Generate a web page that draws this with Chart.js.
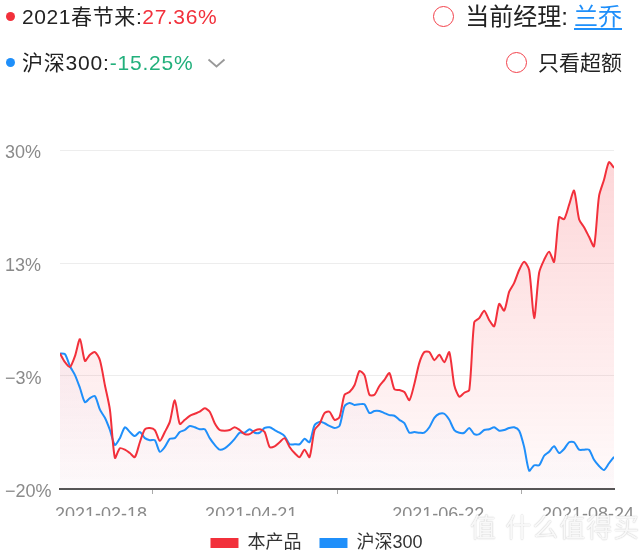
<!DOCTYPE html>
<html>
<head>
<meta charset="utf-8">
<script src="https://cdn.jsdelivr.net/npm/chart.js@4.4.0/dist/chart.umd.min.js"></script>
<style>
  html, body { margin: 0; padding: 0; background: #fff; }
  body { width: 641px; height: 555px; position: relative; overflow: hidden;
         font-family: "Liberation Sans", "Noto Sans CJK SC", sans-serif; }
  #wrap { position: absolute; left: 0; top: 0; width: 641px; height: 555px; }
  .txt { position: absolute; white-space: nowrap; line-height: 24px; color: #222; }
  .dot { position: absolute; width: 9px; height: 9px; border-radius: 50%; }
  .ring { position: absolute; width: 19px; height: 19px; border: 1.5px solid #f2404a; border-radius: 50%; }
  .up { color: #f2303b; }
  .down { color: #22b07c; }
  .link { color: #1f8ffa; text-decoration: underline; text-underline-offset: 3px; margin-left: 6px; }
  .mark { position: absolute; left: 470px; top: 507px; font-size: 26px; letter-spacing: 1px; white-space: nowrap;
          color: rgba(255,255,255,0.9); text-shadow: 0 0 1px rgba(0,0,0,0.25), 0 0 2px rgba(0,0,0,0.1); }
</style>
</head>
<body>
<div id="wrap"><canvas id="navChart"></canvas></div>

<!-- header -->
<span class="dot" style="left:6px;top:12px;background:#f2303b"></span>
<div class="txt" style="left:22px;top:5px;font-size:21px;letter-spacing:0.6px">2021春节来:<span class="up">27.36%</span></div>
<span class="dot" style="left:6px;top:58px;background:#1f8ffa"></span>
<div class="txt" style="left:22px;top:51px;font-size:21px;letter-spacing:0.8px">沪深300:<span class="down">-15.25%</span></div>
<svg style="position:absolute;left:207px;top:58px" width="19" height="11">
  <polyline points="1.5,1.5 9.5,8.5 17.5,1.5" fill="none" stroke="#999" stroke-width="1.8"/>
</svg>

<span class="ring" style="left:433px;top:6px"></span>
<div class="txt" style="right:19px;top:5px;font-size:24px">当前经理:<span class="link">兰乔</span></div>
<span class="ring" style="left:506px;top:52px"></span>
<div class="txt" style="right:19px;top:51px;font-size:21px">只看超额</div>

<div class="mark">值 什么值得买</div>

<script>
// 本产品 cumulative return since the 2021 Spring Festival (%)
const productValues = [
  0.0, -1.3, -2.0, -0.4, 2.1, -1.1, -0.2, 0.2, -1.0, -4.7,
  -8.3, -15.4, -14.0, -14.2, -14.7, -15.3, -13.1, -11.2, -11.0, -11.3,
  -12.9, -11.6, -10.1, -6.9, -10.4, -9.8, -9.2, -8.9, -8.6, -8.1,
  -8.6, -10.3, -11.3, -11.4, -11.3, -10.9, -11.3, -11.9, -11.9, -11.4,
  -11.2, -11.6, -13.8, -13.7, -13.1, -12.5, -13.8, -14.7, -15.3, -14.2,
  -15.3, -11.3, -10.4, -8.8, -8.6, -9.8, -9.4, -6.1, -5.7, -4.7,
  -2.6, -3.2, -6.1, -6.1, -4.8, -3.9, -2.9, -5.3, -5.4, -5.7,
  -6.9, -4.5, -1.4, 0.2, 0.2, -1.0, -0.2, -1.3, 0.2, -4.7,
  -6.4, -5.8, -5.4, 4.6, 5.2, 6.3, 4.9, 4.0, 7.3, 6.3,
  9.1, 10.4, 12.3, 13.5, 12.3, 5.2, 11.9, 13.8, 15.0, 13.5,
  20.1, 19.8, 21.9, 24.0, 19.8, 18.6, 17.2, 15.8, 23.2, 25.6,
  28.2, 27.36
];

// 沪深300 over the same days (%)
const hs300Values = [
  0.0, -0.1, -1.9, -3.2, -5.1, -7.2, -6.6, -6.3, -8.3, -9.5,
  -11.3, -13.5, -12.5, -10.9, -11.6, -12.2, -11.6, -12.5, -12.8, -12.8,
  -14.5, -13.8, -12.6, -12.5, -11.6, -11.3, -10.7, -10.9, -11.2, -11.2,
  -12.5, -13.5, -14.2, -14.0, -13.4, -12.6, -11.7, -11.7, -11.2, -11.7,
  -11.7, -11.0, -10.9, -11.3, -11.7, -12.2, -13.4, -13.4, -13.4, -12.6,
  -13.1, -10.6, -10.1, -10.3, -10.7, -11.0, -10.7, -7.8, -7.3, -7.6,
  -7.5, -7.5, -8.8, -8.5, -8.5, -8.8, -9.1, -9.2, -9.8, -10.3,
  -11.7, -11.6, -11.7, -11.7, -10.9, -9.5, -8.9, -8.9, -9.8, -11.3,
  -11.7, -11.7, -11.0, -11.9, -11.9, -11.3, -11.2, -10.9, -11.4, -11.3,
  -11.0, -10.9, -11.4, -13.8, -17.3, -16.5, -16.5, -15.1, -14.5, -13.7,
  -14.7, -14.1, -13.1, -13.1, -14.2, -14.2, -14.2, -15.7, -16.6, -17.2,
  -16.2, -15.25
];

const seriesNames = ['本产品', '沪深300'];
const seriesColors = ['#f2303b', '#1f8ffa'];

// x axis: date labels and the small tick marks (data index positions)
const xTickLabels = ['2021-02-18', '2021-04-21', '2021-06-22', '2021-08-24'];
const xLabelIndex = [8.2, 38.3, 75.8, 105.8];
const xMarkIndex = [18.5, 55.5, 92.5];

// y axis ticks (%)
const yTickValues = [-20, -3.333, 13.333, 30];

function fillGradient(rgb, a0, a1) {
  return (ctx) => {
    const area = ctx.chart.chartArea;
    if (!area) return 'rgba(' + rgb + ',' + a1 + ')';
    const g = ctx.chart.ctx.createLinearGradient(0, area.top, 0, area.bottom);
    g.addColorStop(0, 'rgba(' + rgb + ',' + a0 + ')');
    g.addColorStop(1, 'rgba(' + rgb + ',' + a1 + ')');
    return g;
  };
}

// nudge the legend a little to the right, like the original
const legendNudge = {
  id: 'legendNudge',
  afterLayout(chart) {
    chart.legend.left += 7;
    chart.legend.right += 7;
  }
};

Chart.defaults.font.family = '"Liberation Sans", "Noto Sans CJK SC", sans-serif';

new Chart(document.getElementById('navChart'), {
  type: 'line',
  data: {
    datasets: [
      {
        label: seriesNames[0],
        data: productValues.map((v, i) => ({ x: i, y: v })),
        borderColor: seriesColors[0],
        backgroundColor: fillGradient('245,45,55', 0.2, 0.02),
        borderWidth: 2,
        pointRadius: 0,
        tension: 0.25,
        fill: 'start'
      },
      {
        label: seriesNames[1],
        data: hs300Values.map((v, i) => ({ x: i, y: v })),
        borderColor: seriesColors[1],
        backgroundColor: fillGradient('120,110,200', 0.08, 0.01),
        borderWidth: 2,
        pointRadius: 0,
        tension: 0.25,
        fill: 'start'
      }
    ]
  },
  plugins: [legendNudge],
  options: {
    responsive: true,
    maintainAspectRatio: false,
    animation: false,
    layout: { padding: { top: 150, left: 5, right: 27, bottom: 0 } },
    plugins: {
      filler: { drawTime: 'beforeDatasetsDraw' },
      tooltip: { enabled: false },
      legend: {
        position: 'bottom',
        maxHeight: 39,
        labels: {
          boxWidth: 28,
          boxHeight: 10,
          padding: 18,
          color: '#333',
          font: { size: 18 },
          generateLabels: (chart) =>
            Chart.defaults.plugins.legend.labels.generateLabels(chart).map(l =>
              Object.assign(l, {
                fillStyle: seriesColors[l.datasetIndex],
                strokeStyle: seriesColors[l.datasetIndex],
                lineWidth: 0
              }))
        }
      }
    },
    scales: {
      x: {
        type: 'linear',
        min: 0,
        max: productValues.length - 1,
        afterBuildTicks: (scale) => {
          const t = xLabelIndex.map((v, i) => ({ value: v, lbl: xTickLabels[i] }))
            .concat(xMarkIndex.map(v => ({ value: v, mark: true })));
          t.sort((a, b) => a.value - b.value);
          scale.ticks = t;
        },
        afterFit: (scale) => {
          scale.height = 27;
          scale.paddingLeft = 0;
          scale.paddingRight = 0;
        },
        grid: {
          drawOnChartArea: false,
          drawTicks: true,
          tickLength: 5,
          tickWidth: 1,
          tickColor: (ctx) => (ctx.tick && ctx.tick.mark ? '#aaa' : 'rgba(0,0,0,0)')
        },
        border: { display: true, color: '#555', width: 2 },
        ticks: {
          autoSkip: false,
          maxRotation: 0,
          padding: 10,
          color: '#8a8a8a',
          font: { size: 18 },
          callback: (v, i, ticks) => ticks[i].lbl || ''
        }
      },
      y: {
        min: -20,
        max: 30,
        afterBuildTicks: (scale) => { scale.ticks = yTickValues.map(v => ({ value: v })); },
        afterFit: (scale) => { scale.width = 55; },
        grid: { color: '#ededed', drawTicks: false, lineWidth: 1 },
        border: { display: false },
        ticks: {
          crossAlign: 'far',
          padding: 0,
          labelOffset: 3,
          color: '#8a8a8a',
          font: { size: 18 },
          callback: (v) => (Math.round(v) + '%').replace('-', '−')
        }
      }
    }
  }
});
</script>
</body>
</html>
